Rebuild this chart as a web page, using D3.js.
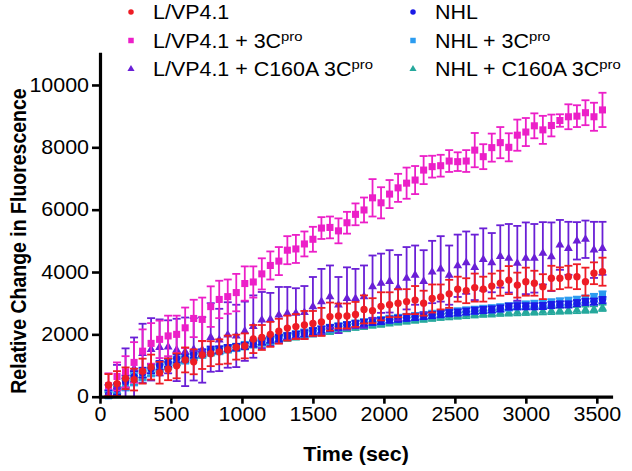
<!DOCTYPE html>
<html><head><meta charset="utf-8">
<script src="https://cdn.jsdelivr.net/npm/d3@7"></script>
<style>
body{margin:0;background:#fff}
svg{display:block}
text{font-family:Arial,"Liberation Sans",Helvetica,sans-serif;fill:#000}
</style>
</head><body>
<svg id="chart" width="632" height="471"></svg>
<script>
// ---- data (time in sec, mean / SD of relative change in fluorescence) ----
const times = [60,120,180,240,300,360,420,480,540,600,660,720,780,840,900,960,1020,1080,1140,1200,
  1260,1320,1380,1440,1500,1560,1620,1680,1740,1800,1860,1920,1980,2040,2100,2160,2220,2280,2340,2400,
  2460,2520,2580,2640,2700,2760,2820,2880,2940,3000,3060,3120,3180,3240,3300,3360,3420,3480,3540];

const xTicks = [0,500,1000,1500,2000,2500,3000,3500];
const yTicks = [0,2000,4000,6000,8000,10000];

const seriesLabels = ["L/VP4.1","L/VP4.1 + 3C","L/VP4.1 + C160A 3C","NHL","NHL + 3C","NHL + C160A 3C"];
const seriesSup    = ["","pro","pro","","pro","pro"];

const lvpMean = [375,420,590,550,820,950,770,880,990,1180,1120,1340,1380,1440,1510,1590,1630,1850,1900,2000,
  2100,2200,2250,2300,2350,2400,2570,2590,2590,2640,2800,2760,2900,2950,3000,3050,3100,3000,3150,3200,
  3300,3450,3400,3500,3450,3550,3640,3740,3580,3690,3640,3530,3800,3800,3850,3850,3690,3960,4010];
const lvpSD = [350,400,350,350,400,400,350,350,400,400,400,450,400,400,450,400,400,450,400,400,
  400,400,400,450,400,450,450,400,400,400,450,400,450,400,450,400,450,400,450,400,
  450,400,400,450,400,400,400,450,400,450,400,400,400,350,350,400,450,350,450];

const lvp3cMean = [350,650,800,1100,1460,1710,1840,1950,2000,2210,2510,2480,2890,3120,3210,3340,3630,3680,3940,4210,
  4350,4700,4740,4900,5050,5410,5430,5320,5580,5850,5990,6380,6220,6500,6700,6850,6950,7270,7380,7410,
  7560,7540,7560,7910,7700,7990,8150,8000,8390,8490,8690,8560,8700,8860,8980,9000,9110,8980,9200];
const lvp3cSD = [400,450,500,650,700,650,600,650,600,650,600,700,650,600,550,600,550,500,500,450,
  450,450,450,400,400,350,350,400,350,350,400,600,500,450,450,500,450,450,350,350,
  350,300,350,550,400,450,500,450,500,450,400,450,350,200,400,350,400,450,550];

const lvpMutMean = [80,320,650,900,1390,1520,1580,1600,1500,1440,1520,1500,1900,1820,1980,1950,2100,2250,2460,2480,
  2620,2670,2680,2700,2890,3050,3210,2940,3150,3150,3210,3530,3640,3700,3500,3800,3900,3700,4000,4100,
  3900,4200,4300,4150,4400,4300,4500,4440,4280,4440,4440,4600,4490,4870,4760,5000,5050,4710,4760];
const lvpMutSD = [300,700,900,1000,950,1000,900,850,1000,1100,1000,1050,1100,1000,1050,1000,950,1000,900,850,
  900,850,800,850,950,1050,1000,900,1000,950,1000,1000,950,1000,1050,1000,950,1000,1000,1050,
  950,1000,1000,1050,1000,950,1000,1100,1200,1150,1100,1000,1100,800,850,600,600,900,850];

const nhlMean = [60,250,480,640,770,900,1010,1090,1230,1250,1370,1410,1500,1510,1560,1590,1630,1700,1770,1830,
  1880,1940,1990,2030,2100,2150,2200,2240,2290,2330,2370,2400,2430,2470,2500,2530,2560,2590,2620,2650,
  2680,2700,2730,2760,2780,2800,2830,2890,2900,2900,2900,2910,2940,2960,2960,3000,3040,3050,3100];
const nhlSD = [150,180,200,180,160,150,140,130,130,120,120,110,110,110,100,100,100,100,100,100,
  100,100,100,100,100,100,100,100,100,100,100,100,100,100,100,100,100,100,100,100,
  100,100,100,100,100,100,100,100,100,100,100,100,100,100,100,100,100,100,100];

const nhl3cMean = [30,200,400,560,700,820,950,1050,1150,1200,1300,1380,1450,1480,1540,1580,1640,1700,1760,1820,
  1880,1930,1980,2040,2090,2140,2190,2240,2280,2330,2370,2410,2440,2480,2510,2540,2570,2600,2640,2660,
  2700,2720,2750,2770,2800,2820,2850,2880,2920,2940,2960,2980,3010,3040,3060,3090,3130,3180,3260];
const nhl3cSD = [150,180,200,200,180,170,150,150,140,140,130,130,120,120,120,120,120,120,120,120,
  120,120,120,120,120,120,120,120,120,120,120,120,120,120,120,120,120,120,120,120,
  120,120,120,120,120,120,120,120,120,120,120,120,120,120,120,120,120,120,120];

const nhlMutMean = [20,180,380,540,690,800,920,1010,1120,1180,1280,1350,1420,1470,1520,1570,1620,1680,1740,1790,
  1840,1890,1930,1980,2030,2070,2110,2160,2200,2240,2270,2310,2340,2380,2410,2440,2470,2500,2530,2560,
  2580,2600,2620,2640,2660,2670,2690,2700,2710,2720,2730,2740,2750,2760,2770,2780,2790,2800,2850];
const nhlMutSD = [120,150,160,150,140,130,120,110,110,100,100,100,100,100,100,100,100,100,100,100,
  100,100,100,100,100,100,100,100,100,100,100,100,100,100,100,100,100,100,100,100,
  100,100,100,100,100,100,100,100,100,100,100,100,100,100,100,100,100,100,100];

const seriesColors = ["#ee1c25","#ec1fc8","#6a1fd6","#1a1ae6","#2c9cf0","#25a89c"];
const seriesShapes = [d3.symbolCircle,d3.symbolSquare,d3.symbolTriangle,d3.symbolCircle,d3.symbolSquare,d3.symbolTriangle];
const seriesMeans = [lvpMean,lvp3cMean,lvpMutMean,nhlMean,nhl3cMean,nhlMutMean];
const seriesSDs   = [lvpSD,lvp3cSD,lvpMutSD,nhlSD,nhl3cSD,nhlMutSD];
const drawOrder = [5,4,3,2,1,0];

// ---- chart ----
const svg = d3.select("#chart");
const x = d3.scaleLinear().domain([0,3600]).range([100,611]);
const y = d3.scaleLinear().domain([0,11000]).range([396.7,53.8]);

const FS = 19.5;      // font size
const SX = 1.1;       // horizontal glyph stretch of the original figure
const markSize = [42,50,34,42,50,34];
const legendSize = [24,30,22,24,30,22];
const capHalf = 4;

drawOrder.forEach(si => {
  const g = svg.append("g");
  const col = seriesColors[si];
  const pts = times.map((t,i) => ({t, m: seriesMeans[si][i], s: seriesSDs[si][i]}));
  const eb = g.selectAll("g.eb").data(pts).join("g").attr("class","eb")
    .attr("stroke", col).attr("stroke-width", 1.8).attr("fill","none");
  eb.append("line").attr("x1", d=>x(d.t)).attr("x2", d=>x(d.t))
    .attr("y1", d=>y(d.m + d.s)).attr("y2", d=>y(Math.max(0, d.m - d.s)));
  eb.append("line").attr("x1", d=>x(d.t)-capHalf).attr("x2", d=>x(d.t)+capHalf)
    .attr("y1", d=>y(d.m + d.s)).attr("y2", d=>y(d.m + d.s));
  eb.filter(d => d.m - d.s > 0).append("line").attr("x1", d=>x(d.t)-capHalf).attr("x2", d=>x(d.t)+capHalf)
    .attr("y1", d=>y(d.m - d.s)).attr("y2", d=>y(d.m - d.s));
  const sym = d3.symbol().type(seriesShapes[si]).size(markSize[si]);
  g.selectAll("path.mk").data(pts).join("path").attr("class","mk")
    .attr("d", sym).attr("fill", col)
    .attr("transform", d => `translate(${x(d.t)},${y(d.m)})`);
});

// axes
const fmt = d3.format("d");
const xAxis = d3.axisBottom(x).tickValues(xTicks).tickFormat(fmt).tickSize(7).tickSizeOuter(0).tickPadding(3);
const yAxis = d3.axisLeft(y).tickValues(yTicks).tickFormat(fmt).tickSize(8).tickSizeOuter(0).tickPadding(3);
const gx = svg.append("g").attr("transform", `translate(0,${y(0)})`).call(xAxis);
const gy = svg.append("g").attr("transform", `translate(${x(0)},0)`).call(yAxis);
[gx,gy].forEach(g => {
  g.select(".domain").attr("stroke","#000").attr("stroke-width",3.2).attr("stroke-linecap","square");
  g.selectAll(".tick line").attr("stroke","#000").attr("stroke-width",2.6);
  g.selectAll(".tick text").attr("font-size",FS).attr("font-family","Arial, 'Liberation Sans', sans-serif").attr("fill","#000");
});
gx.selectAll(".tick text").attr("transform",`scale(${SX},1)`);
gy.selectAll(".tick text").attr("x", -11/SX).attr("transform",`scale(${SX},1)`);

// axis titles
svg.append("text").attr("transform",`translate(356,461) scale(${SX},1)`).attr("text-anchor","middle")
  .attr("font-size",FS).attr("font-weight","bold").text("Time (sec)");
svg.append("text").attr("transform",`translate(26,241) rotate(-90) scale(1,${SX})`).attr("text-anchor","middle")
  .attr("font-size",FS).attr("font-weight","bold").text("Relative Change in Fluorescence");

// legend
const legX = [131,131,131,413,413,413];
const legBase = [19,47.5,76,19,47.5,76];
seriesLabels.forEach((lab,i) => {
  const sym = d3.symbol().type(seriesShapes[i]).size(legendSize[i]);
  svg.append("path").attr("d", sym).attr("fill", seriesColors[i])
    .attr("transform", `translate(${legX[i]},${legBase[i]-7})`);
  const t = svg.append("text").attr("transform", `translate(${legX[i]+22},${legBase[i]}) scale(${SX},1)`)
    .attr("font-size",FS);
  t.append("tspan").text(lab);
  if (seriesSup[i]) t.append("tspan").attr("font-size",13.5).attr("dy",-7).text(seriesSup[i]);
});
</script>
</body></html>
